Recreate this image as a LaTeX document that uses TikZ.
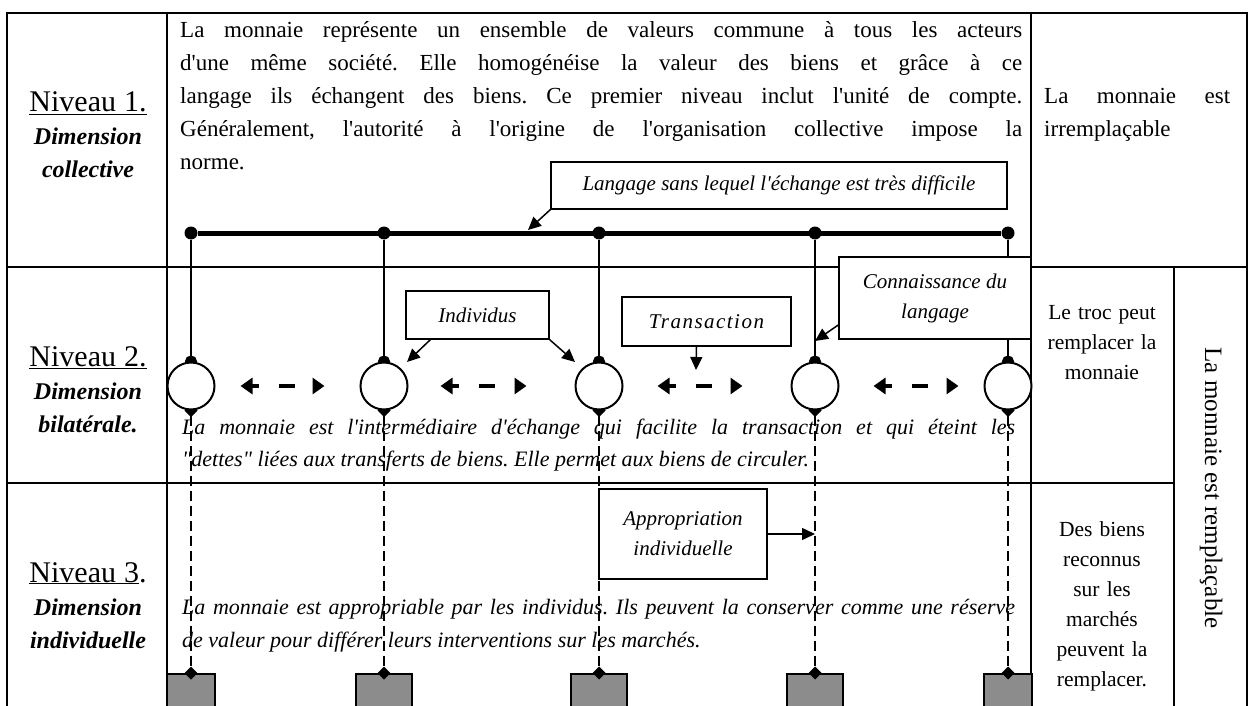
\documentclass[tikz,border=0pt]{standalone}
\usepackage{fontspec}
\setmainfont{Liberation Serif}[Ligatures=TeXOff]
\usetikzlibrary{arrows.meta}
\pgfdeclarelayer{fg}
\pgfsetlayers{main,fg}
\definecolor{biengray}{RGB}{140,140,140}
\tolerance=10000
\hbadness=10000
\hyphenpenalty=10000
\frenchspacing
\tikzset{
    rule/.style={line width=2pt},
    bus/.style={line width=5pt},
    dot/.style={circle, fill=black, inner sep=0pt, minimum size=13pt},
    actor/.style={circle, draw, fill=white, line width=2pt, inner sep=0pt, minimum size=47pt},
    bien/.style={draw, fill=biengray, line width=2pt, anchor=north, minimum height=50pt},
    link/.style={line width=2.5pt, -{Circle[length=12pt]}, shorten >=-6pt},
    hold/.style={line width=2pt, dash pattern=on 10pt off 5pt,
        {Diamond[length=13pt, width=13pt]}-{Diamond[length=13pt, width=13pt]},
        shorten <=-6.5pt, shorten >=-6.5pt},
    trade/.style={line width=4pt, dash pattern=on 7pt off 20pt on 16pt off 20pt,
        {Triangle[length=12pt, width=16pt]}-{Triangle[length=12pt, width=16pt]}},
    note/.style={draw, fill=white, line width=1.5pt, inner sep=0pt, align=center,
        font=\itshape\fontsize{21}{30}\selectfont},
    pointer/.style={line width=1.5pt, -{Triangle[length=13pt, width=12pt]}},
    para/.style={anchor=base west, inner sep=0pt, align=justify},
    level/.style={anchor=base, inner sep=0pt, text width=160pt, align=center,
        font=\bfseries\itshape\fontsize{24}{33}\selectfont},
    side/.style={anchor=base, inner sep=0pt, text width=143pt, align=center,
        font=\fontsize{21.5}{30}\selectfont}
}
\begin{document}
\begin{tikzpicture}[x=1pt, y=-1pt]
    \useasboundingbox (0, 0) rectangle (1253, 706);
    % table
    \draw[rule] (7, 706) -- (7, 13) -- (1247, 13) -- (1247, 706);
    \draw[rule] (167, 13) -- (167, 706);
    \draw[rule] (1031, 13) -- (1031, 706);
    \draw[rule] (1174, 267) -- (1174, 706);
    \draw[rule] (7, 267) -- (1247, 267);
    \draw[rule] (7, 483) -- (1174, 483);

    \node[level] (lvl1) at (88, 112) {{\normalfont\fontsize{30}{33}\selectfont\underline{Niveau 1.}}\\Dimension\\collective};
    \node[level] (lvl2) at (88, 366) {{\normalfont\fontsize{30}{33}\selectfont\underline{Niveau 2.}}\\Dimension\\bilatérale.};
    \node[level] (lvl3) at (88, 582) {{\normalfont\fontsize{30}{33}\selectfont\underline{Niveau 3}.}\\Dimension\\individuelle};

    \node[para, text width=842pt, font=\fontsize{23}{33}\selectfont] (txt1) at (180, 38) {La monnaie représente un ensemble de valeurs commune à tous les acteurs\linebreak d'une même société. Elle homogénéise la valeur des biens et grâce à ce\linebreak langage ils échangent des biens. Ce premier niveau inclut l'unité de compte.\linebreak Généralement, l'autorité à l'origine de l'organisation collective impose la\linebreak norme.};
    \node[para, text width=833pt, font=\itshape\fontsize{22}{32}\selectfont] (txt2) at (182, 434) {La monnaie est l'intermédiaire d'échange qui facilite la transaction et qui éteint les\linebreak "dettes" liées aux transferts de biens. Elle permet aux biens de circuler.};
    \node[para, text width=833pt, font=\itshape\fontsize{22}{33}\selectfont] (txt3) at (182, 614) {La monnaie est appropriable par les individus. Ils peuvent la conserver comme une réserve\linebreak de valeur pour différer leurs interventions sur les marchés.};

    \node[para, text width=186pt, font=\fontsize{23}{33}\selectfont] (irr) at (1044, 104) {La monnaie est\linebreak irremplaçable};
    \node[side] (troc) at (1102, 319) {Le troc peut\\remplacer la\\monnaie};
    \node[side] (marche) at (1102, 536) {Des biens\\reconnus\\sur les\\marchés\\peuvent la\\remplacer.};
    \node[rotate=-90, inner sep=0pt, font=\fontsize{25}{30}\selectfont] (remp) at (1211, 488) {La monnaie est remplaçable};

    \foreach \i/\x/\w in {1/191/48, 2/384/56, 3/599/56, 4/815/56, 5/1008/48} {
        \node[dot] (d\i) at (\x, 233) {};
        \node[bien, minimum width=\w pt] (s\i) at (\x, 673) {};
    }
    \begin{pgfonlayer}{fg}
        \foreach \i/\x in {1/191, 2/384, 3/599, 4/815, 5/1008}
            \node[actor] (c\i) at (\x, 386) {};
        \node[note, minimum width=456pt, minimum height=47pt] (lang) at (779, 185.5) {Langage sans lequel l'échange est très difficile};
        \node[note, minimum width=143pt, minimum height=48pt] (ind) at (477.5, 315) {Individus};
        \node[note, minimum width=169pt, minimum height=49pt, font=\itshape\fontsize{21}{30}\selectfont\addfontfeature{LetterSpace=7}] (tra) at (706.5, 321.5) {Transaction};
        \node[note, minimum width=192pt, minimum height=82pt] (con) at (935, 298) {Connaissance du\\langage};
        \node[note, minimum width=168pt, minimum height=90pt] (app) at (683, 534) {Appropriation\\individuelle};
    \end{pgfonlayer}

    \draw[bus] (d1) -- (d5);
    \foreach \i in {1,...,5} {
        \draw[link] (d\i) -- (c\i.north);
        \draw[hold] (c\i.south) -- (s\i.north);
    }
    \foreach \a/\b/\s/\e in {1/2/25/35, 2/3/32/48, 3/4/34/48, 4/5/34/25}
        \draw[trade, shorten <=\s pt, shorten >=\e pt] (c\a) -- (c\b);

    \coordinate (onbus) at (528, 230);
    \coordinate (tobuyer) at (407, 362);
    \coordinate (toseller) at (575, 362);
    \coordinate (totrade) at (696, 370);
    \coordinate (toline) at (815, 341);
    \draw[pointer] (lang.south west) -- (onbus);
    \draw[pointer] ([xshift=25pt]ind.south west) -- (tobuyer);
    \draw[pointer] (ind.south east) -- (toseller);
    \draw[pointer] ([xshift=-10pt]tra.south) -- (totrade);
    \draw[pointer] ([yshift=-27pt]con.west) -- (toline);
    \draw[pointer] (app.east) -- (app.east -| c4);
\end{tikzpicture}
\end{document}
